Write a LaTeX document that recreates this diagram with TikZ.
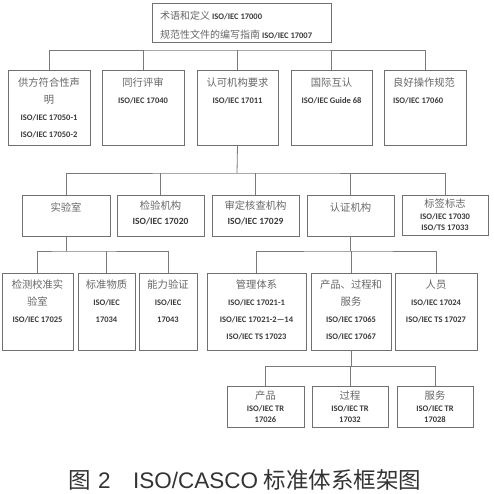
\documentclass[tikz,border=0pt]{standalone}
\usepackage{fontspec}
\setmainfont{Carlito}
\newfontfamily\cjk{Noto Sans CJK SC}
\newfontfamily\capl{Liberation Sans}
\definecolor{boxc}{HTML}{707070}
\definecolor{linec}{HTML}{7A7A7A}
\definecolor{zhc}{HTML}{666666}
\definecolor{enc}{HTML}{3A3A3A}
\definecolor{capc}{HTML}{333333}
\newcommand\zh[1]{{\cjk\mdseries\fontsize{10.3}{\baselineskip}\selectfont\color{zhc}#1}}
\newcommand\zhs[1]{{\cjk\mdseries\fontsize{10}{\baselineskip}\selectfont\color{zhc}#1}}
\tikzset{
  bx/.style={draw=boxc, line width=0.9pt, inner sep=0pt, outer sep=0pt, anchor=north west},
  ln/.style={draw=linec, line width=0.8pt},
  tx/.style={anchor=north, inner sep=0pt, align=center, text=enc},
  fa/.style={font=\fontsize{8.5}{16.8}\selectfont\bfseries},
  fb/.style={font=\fontsize{8.5}{17}\selectfont\bfseries},
  fc/.style={font=\fontsize{9.5}{14.5}\selectfont\bfseries},
  fd/.style={font=\fontsize{8.5}{11.3}\selectfont\bfseries},
}
\newcommand\bxat[5]{\node[bx, minimum width={(#4-#2)*1pt}, minimum height={(#5-#3)*1pt}] (#1) at (#2,#3) {};}
\begin{document}
\begin{tikzpicture}[x=1pt,y=-1pt]
\useasboundingbox (0,0) rectangle (494,493);
% boxes
\bxat{top}{152}{3.3}{331}{42.7}
\bxat{ra}{8}{70}{90}{145}
\bxat{rb}{102}{70}{184}{145}
\bxat{rc}{197}{70}{278}{145}
\bxat{rd}{291}{70}{372}{145}
\bxat{re}{384}{70}{466}{145}
\bxat{sa}{22}{195}{110}{236}
\bxat{sb}{117}{195}{204}{236}
\bxat{sc}{212}{195}{299}{236}
\bxat{sd}{307}{195}{394}{236}
\bxat{se}{402}{195}{488}{235}
\bxat{ta}{2}{273}{73}{350}
\bxat{tb}{78}{273}{135}{350}
\bxat{tc}{139}{273}{197}{350}
\bxat{td}{207}{273}{306}{350}
\bxat{te}{311}{273}{391}{350}
\bxat{tf}{395}{273}{477}{350}
\bxat{ua}{227}{386}{304}{427}
\bxat{ub}{312}{386}{388}{427}
\bxat{uc}{397}{386}{473}{427}
% texts
\node[anchor=north west, inner sep=0pt, align=left, text=enc, font=\fontsize{8.5}{18.6}\selectfont\bfseries] (ttop) at ([xshift=8pt,yshift=-7.5pt]top.north west)
  {\zhs{术语和定义} ISO/IEC 17000\\ \zhs{规范性文件的编写指南} ISO/IEC 17007};
\node[tx, fa, yshift=-8pt] (tra) at (ra.north) {\zh{供方符合性声}\\ \zh{明}\\ ISO/IEC 17050-1\\ ISO/IEC 17050-2};
\node[tx, fa, yshift=-8pt] (trb) at (rb.north) {\zh{同行评审}\\ ISO/IEC 17040};
\node[tx, fa, yshift=-8pt] (trc) at (rc.north) {\zh{认可机构要求}\\ ISO/IEC 17011};
\node[tx, fa, yshift=-8pt] (trd) at (rd.north) {\zh{国际互认}\\ ISO/IEC Guide 68};
\node[anchor=north west, inner sep=0pt, align=left, text=enc, fa] (tre) at ([xshift=9pt,yshift=-8pt]re.north west) {\zh{良好操作规范}\\ ISO/IEC 17060};
\node[tx, fc, yshift=-8pt] (tsa) at (sa.north) {\zh{实验室}};
\node[tx, fc, yshift=-6pt] (tsb) at (sb.north) {\zh{检验机构}\\ ISO/IEC 17020};
\node[tx, fc, yshift=-6pt] (tsc) at (sc.north) {\zh{审定核查机构}\\ ISO/IEC 17029};
\node[tx, fc, yshift=-8pt] (tsd) at (sd.north) {\zh{认证机构}};
\node[tx, fd, yshift=-4pt] (tse) at (se.north) {\zh{标签标志}\\ ISO/IEC 17030\\ ISO/TS 17033};
\node[tx, fb, yshift=-7pt] (tta) at (ta.north) {\zh{检测校准实}\\ \zh{验室}\\ ISO/IEC 17025};
\node[tx, fb, yshift=-7pt] (ttb) at (tb.north) {\zh{标准物质}\\ ISO/IEC\\ 17034};
\node[tx, fb, yshift=-7pt] (ttc) at (tc.north) {\zh{能力验证}\\ ISO/IEC\\ 17043};
\node[tx, fb, yshift=-7pt] (ttd) at (td.north) {\zh{管理体系}\\ ISO/IEC 17021-1\\ ISO/IEC 17021-2—14\\ ISO/IEC TS 17023};
\node[tx, fb, yshift=-7pt] (tte) at (te.north) {\zh{产品、过程和}\\ \zh{服务}\\ ISO/IEC 17065\\ ISO/IEC 17067};
\node[tx, fb, yshift=-7pt] (ttf) at (tf.north) {\zh{人员}\\ ISO/IEC 17024\\ ISO/IEC TS 17027};
\node[tx, fd, yshift=-5pt] (tua) at (ua.north) {\zh{产品}\\ ISO/IEC TR\\ 17026};
\node[tx, fd, yshift=-5pt] (tub) at (ub.north) {\zh{过程}\\ ISO/IEC TR\\ 17032};
\node[tx, fd, yshift=-5pt] (tuc) at (uc.north) {\zh{服务}\\ ISO/IEC TR\\ 17028};
% connectors
\coordinate (b1) at (237,50);
\draw[ln] (ra.north) |- (b1) -| (re.north);
\draw[ln] (rb.north) -- (rb.north |- b1);
\draw[ln] (rc.north) -- (rc.north |- b1);
\draw[ln] (rd.north) -- (rd.north |- b1);
\coordinate (b2) at (237,173);
\draw[ln] (rc.south) -- (b2);
\draw[ln] (sa.north) |- (b2) -| (se.north);
\draw[ln] (sb.north) -- (sb.north |- b2);
\draw[ln] (sc.north) -- (sc.north |- b2);
\draw[ln] (sd.north) -- (sd.north |- b2);
\coordinate (b3) at (66,251);
\draw[ln] (sa.south) -- (b3);
\draw[ln] (ta.north) |- (b3) -| (tc.north);
\draw[ln] (tb.north) -- (tb.north |- b3);
\coordinate (b4) at (350.5,251);
\draw[ln] (sd.south) -- (b4);
\draw[ln] (td.north) |- (b4) -| (tf.north);
\draw[ln] (te.north) -- (te.north |- b4);
\coordinate (b5) at (351,366);
\draw[ln] (te.south) -- (b5);
\draw[ln] (ua.north) |- (b5) -| (uc.north);
\draw[ln] (ub.north) -- (ub.north |- b5);
% caption
\node[inner sep=0pt, text=capc, font=\fontsize{22.5}{26}\selectfont] (cap) at (245,480)
  {{\cjk 图}\hspace{0.3em}{\capl 2}\hspace{1em}{\capl ISO/CASCO}\hspace{0.25em}{\cjk 标准体系框架图}};
\end{tikzpicture}
\end{document}
